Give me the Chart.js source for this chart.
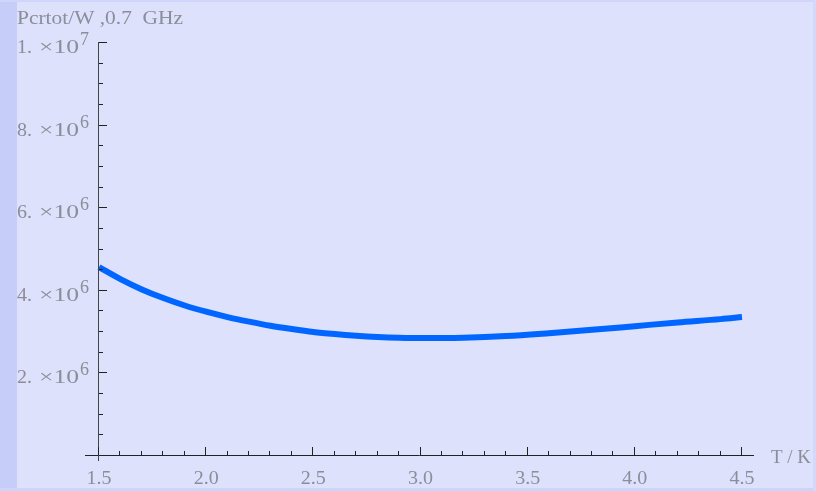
<!DOCTYPE html>
<html>
<head>
<meta charset="utf-8">
<script src="https://cdn.jsdelivr.net/npm/chart.js@4/dist/chart.umd.min.js"></script>
<style>
  html, body { margin: 0; padding: 0; background: #dde1fc; }
  #wrap { position: relative; width: 816px; height: 491px; overflow: hidden; }
  #strip { position: absolute; left: 0; top: 0; width: 17px; height: 491px; background: #c6cdf9; }
  #topline { position: absolute; left: 0; top: 0; width: 816px; height: 2px; background: #cfd5fb; }
  #botline { position: absolute; left: 0; top: 488px; width: 816px; height: 3px; background: #cdd4fa; }
  #rightline { position: absolute; left: 813px; top: 0; width: 3px; height: 491px; background: #d3d9fb; }
  canvas { position: absolute; left: 0; top: 0; }
</style>
</head>
<body>
<div id="wrap">
  <div id="strip"></div>
  <div id="topline"></div>
  <div id="botline"></div>
  <div id="rightline"></div>
  <canvas id="c" width="816" height="491"></canvas>
</div>
<script>
// temperature (K) and total power (W)
const temps = [1.5, 1.6, 1.7, 1.8, 1.9, 2.0, 2.1, 2.2, 2.3, 2.4, 2.5, 2.6, 2.7, 2.8, 2.9, 3.0,
               3.2, 3.4, 3.6, 3.8, 4.0, 4.2, 4.4, 4.5];
const power = [4.55e6, 4.26e6, 4.01e6, 3.80e6, 3.62e6, 3.47e6, 3.34e6, 3.23e6, 3.13e6, 3.05e6,
               2.98e6, 2.93e6, 2.89e6, 2.86e6, 2.84e6, 2.83e6,
               2.84e6, 2.88e6, 2.95e6, 3.03e6, 3.12e6, 3.21e6, 3.29e6, 3.34e6];

const xMajor = [1.5, 2.0, 2.5, 3.0, 3.5, 4.0, 4.5];
const xMajorLabels = ['1.5', '2.0', '2.5', '3.0', '3.5', '4.0', '4.5'];
const xMinor = [1.6, 1.7, 1.8, 1.9, 2.1, 2.2, 2.3, 2.4, 2.6, 2.7, 2.8, 2.9, 3.1, 3.2, 3.3, 3.4,
                3.6, 3.7, 3.8, 3.9, 4.1, 4.2, 4.3, 4.4];
const yMajor = [2e6, 4e6, 6e6, 8e6, 1e7];
const yMantissa = ['2.', '4.', '6.', '8.', '1.'];
const yExponent = ['6', '6', '6', '6', '7'];
const yMinor = [0.5e6, 1e6, 1.5e6, 2.5e6, 3e6, 3.5e6, 4.5e6, 5e6, 5.5e6, 6.5e6, 7e6, 7.5e6,
                8.5e6, 9e6, 9.5e6];

const yTitle = 'Pcrtot/W ,0.7  GHz';
const xTitle = 'T / K';

const textColor = '#8b8d99';
const serif = '"Liberation Serif", "DejaVu Serif", serif';

// draw text squeezed/stretched so it spans a given width
function fitText(ctx, text, x, y, width, align) {
    const w = ctx.measureText(text).width;
    const sx = width / w;
    ctx.save();
    ctx.textAlign = 'left';
    let left = x;
    if (align === 'center') left = x - width / 2;
    if (align === 'right') left = x - width;
    ctx.translate(left, y);
    ctx.scale(sx, 1);
    ctx.fillText(text, 0, 0);
    ctx.restore();
}

const axesPlugin = {
    id: 'mmaAxes',
    afterDatasetsDraw(chart) {
        const ctx = chart.ctx;
        const xs = chart.scales.x;
        const ys = chart.scales.y;
        const y0 = ys.getPixelForValue(0);
        const x0 = xs.getPixelForValue(1.5);
        ctx.save();
        ctx.strokeStyle = '#222';
        ctx.lineWidth = 1;

        // x axis line
        ctx.beginPath();
        ctx.moveTo(85, y0 + 0.5);
        ctx.lineTo(754, y0 + 0.5);
        ctx.stroke();
        // y axis line
        ctx.strokeStyle = '#444';
        ctx.beginPath();
        ctx.moveTo(x0 - 0.5, ys.getPixelForValue(1e7));
        ctx.lineTo(x0 - 0.5, y0 + 6);
        ctx.stroke();

        ctx.strokeStyle = '#222';
        xMajor.forEach(v => {
            const px = Math.round(xs.getPixelForValue(v)) - 0.5;
            ctx.beginPath(); ctx.moveTo(px, y0); ctx.lineTo(px, y0 - 8); ctx.stroke();
        });
        xMinor.forEach(v => {
            const px = Math.round(xs.getPixelForValue(v)) - 0.5;
            ctx.beginPath(); ctx.moveTo(px, y0); ctx.lineTo(px, y0 - 4); ctx.stroke();
        });
        yMajor.forEach(v => {
            const py = Math.round(ys.getPixelForValue(v)) + 0.5;
            ctx.beginPath(); ctx.moveTo(x0, py); ctx.lineTo(x0 + 8, py); ctx.stroke();
        });
        yMinor.forEach(v => {
            const py = Math.round(ys.getPixelForValue(v)) + 0.5;
            ctx.beginPath(); ctx.moveTo(x0, py); ctx.lineTo(x0 + 4, py); ctx.stroke();
        });

        // tick labels
        ctx.fillStyle = textColor;
        ctx.font = '18px ' + serif;
        ctx.textBaseline = 'alphabetic';
        xMajor.forEach((v, i) => {
            fitText(ctx, xMajorLabels[i], xs.getPixelForValue(v), 484, 25, 'center');
        });

        yMajor.forEach((v, i) => {
            const py = ys.getPixelForValue(v);
            ctx.font = '18px ' + serif;
            fitText(ctx, yMantissa[i], 17, py + 11, 15, 'left');
            fitText(ctx, '\u00d710', 39, py + 11, 40, 'left');
            fitText(ctx, yExponent[i], 80, py + 3, 9, 'left');
        });

        // axis titles
        ctx.font = '18px ' + serif;
        fitText(ctx, yTitle, 17, 24, 166, 'left');
        ctx.font = '18px ' + serif;
        fitText(ctx, xTitle, 771, 463, 40, 'left');
        ctx.restore();
    }
};

new Chart(document.getElementById('c'), {
    type: 'scatter',
    data: {
        datasets: [{
            data: temps.map((t, i) => ({ x: t, y: power[i] })),
            showLine: true,
            borderColor: '#0066ff',
            borderWidth: 6,
            borderCapStyle: 'butt',
            pointRadius: 0,
            cubicInterpolationMode: 'monotone',
            clip: false
        }]
    },
    options: {
        responsive: false,
        animation: false,
        layout: { padding: { left: 99, right: 74, top: 42, bottom: 36 } },
        plugins: { legend: { display: false }, tooltip: { enabled: false } },
        scales: {
            x: { type: 'linear', min: 1.5, max: 4.5, display: false },
            y: { type: 'linear', min: 0, max: 1e7, display: false }
        }
    },
    plugins: [axesPlugin]
});
</script>
</body>
</html>
